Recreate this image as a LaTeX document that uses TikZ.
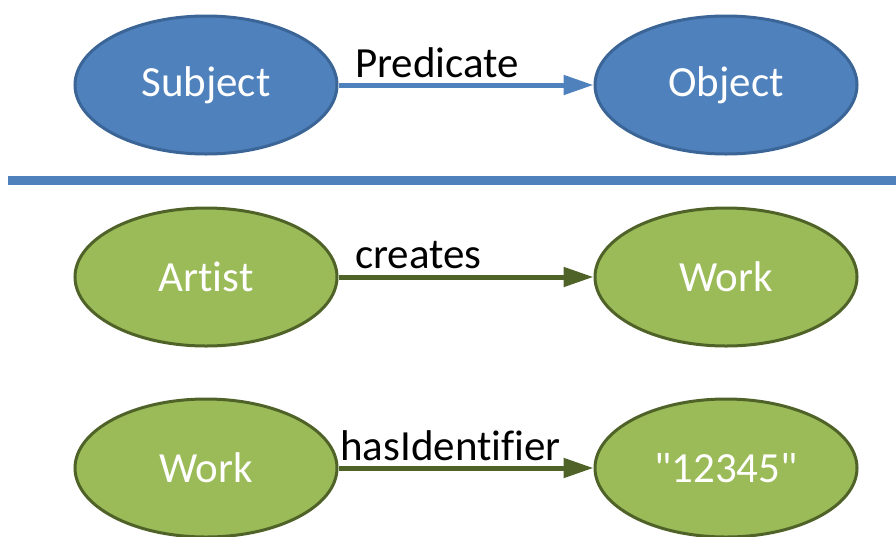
\documentclass[tikz,border=0pt]{standalone}
\usepackage{fontspec}
\setmainfont{Carlito}[Ligatures=NoCommon]
\newfontfamily\plainfont{Carlito}[Ligatures=NoCommon]
\usetikzlibrary{shapes.geometric,arrows.meta}
\definecolor{bfill}{HTML}{4F81BD}
\definecolor{bline}{HTML}{3A6596}
\definecolor{gfill}{HTML}{9BBB59}
\definecolor{gline}{HTML}{4F6228}
\tikzset{
  nd/.style={ellipse, minimum width=262pt, minimum height=138pt, inner sep=0pt,
    line width=3pt, text=white, font=\fontsize{43}{50}\selectfont},
  bnode/.style={nd, fill=bfill, draw=bline},
  gnode/.style={nd, fill=gfill, draw=gline},
  conn/.style={line width=5pt, -{Triangle[length=30pt,width=19pt]}},
  lbl/.style={anchor=base west, inner sep=0pt, font=\fontsize{43}{50}\selectfont, text=black}
}
\begin{document}
\begin{tikzpicture}[x=1pt,y=-1pt]
\useasboundingbox (0,0) rectangle (896,536);
\node[bnode] (subj) at (206,85) {Subject};
\node[bnode] (obj) at (726,85) {Object};
\draw[conn, draw=bfill] (subj) -- (obj);
\node[lbl] (pred) at (355,77) {Predicate};
\coordinate (hl) at (8,180.5);
\coordinate (hr) at (896,180.5);
\draw[line width=9pt, draw=bfill] (hl) -- (hr);
\node[gnode] (artist) at (206,277) {Artist};
\node[gnode] (work1) at (726,277) {Work};
\draw[conn, draw=gline] (artist) -- (work1);
\node[lbl] (creates) at (355,268) {creates};
\node[gnode] (work2) at (206,468) {Work};
\node[gnode] (id) at (726,468) {\plainfont "12345"};
\draw[conn, draw=gline] (work2) -- (id);
\node[lbl] (hasid) at (340,460) {hasIdentifier};
\end{tikzpicture}
\end{document}
